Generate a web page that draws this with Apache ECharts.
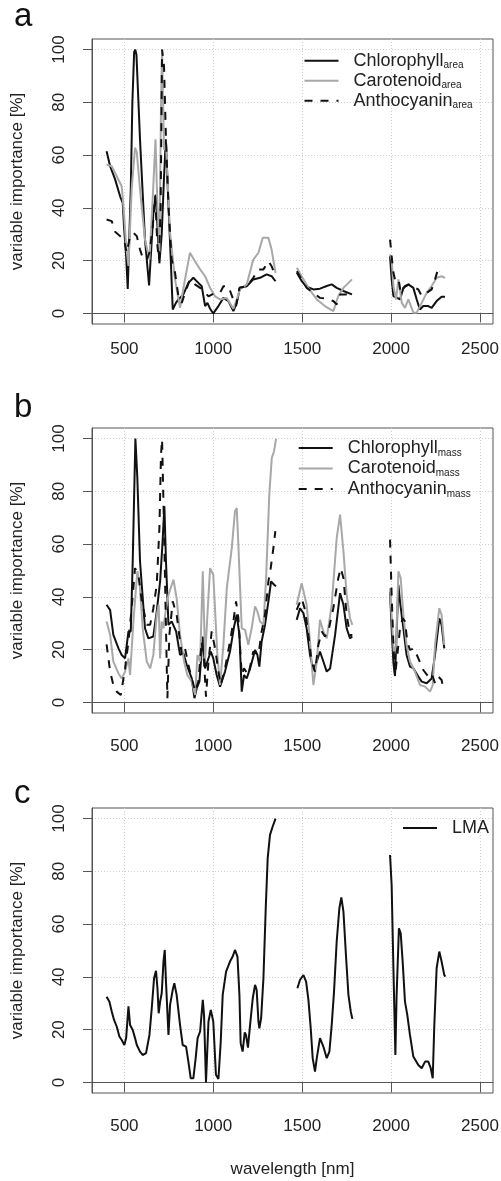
<!DOCTYPE html>
<html><head><meta charset="utf-8">
<script src="https://cdn.jsdelivr.net/npm/echarts@6/dist/echarts.min.js"></script>
<style>html,body{margin:0;padding:0;background:#fff;}#c{width:501px;height:1181px;}</style>
</head><body><div id="c"></div>
<script>
const xTicks = [500, 1000, 1500, 2000, 2500];
const yTicks = [0, 20, 40, 60, 80, 100];
const panelLabels = ['a', 'b', 'c'];
const pigments = ['Chlorophyll', 'Carotenoid', 'Anthocyanin'];
const subA = 'area', subB = 'mass';
const xTitle = 'wavelength [nm]';
const yTitle = 'variable importance [%]';

// panel a
const chlArea = [[400,61.5],[420,55.8],[448,50.8],[476,44.4],[491,41.9],[498,33],[510,21.7],[519,9.3],[536,47],[545,80],[555,99],[561,100],[568,98],[578,82],[588,65.9],[616,28],[639,10.6],[663,38],[676,45],[686,33],[697,19],[710,30],[722,50],[733,66],[745,46],[760,22],[772,1.5],[790,4],[804,5.3],[832,7.2],[860,11.6],[888,13.5],[916,11.6],[935,10.3],[954,2.8],[967,4],[982,1.8],[1000,0],[1029,2.8],[1057,5.9],[1085,4.7],[1113,0.9],[1132,4],[1150,9.7],[1188,10.3],[1225,12.9],[1263,13.5],[1300,14.8],[1328,14.1],[1350,12.2],
  null,[1470,15.4],[1497,12.3],[1525,10.1],[1563,9.1],[1600,9.4],[1638,10.4],[1666,11],[1694,9.7],[1732,8.5],[1780,7.2],
  null,[1994,21.7],[2003,13],[2013,6.6],[2031,6],[2050,5.3],[2069,9.7],[2097,11],[2125,9.7],[2144,5.3],[2162,1.5],[2181,2.8],[2209,2.8],[2228,2.1],[2256,4.7],[2284,6.3],[2303,6.3]];
const carArea = [[400,56.4],[429,55.8],[457,52],[485,48.2],[498,38],[510,25.5],[523,18],[541,47],[560,62.8],[570,61],[588,47],[616,28],[641,20.4],[660,44.4],[675,66],[686,40.6],[697,23],[706,78.5],[712,100],[723,62],[734,64],[757,30.5],[785,12.9],[813,2.1],[841,12.9],[869,23],[897,19.8],[926,16.7],[954,14.1],[982,9.7],[1010,6.5],[1038,5.3],[1075,5.9],[1113,1.8],[1132,5.3],[1150,9.1],[1188,11],[1225,20.4],[1254,23],[1278,28.7],[1310,28.7],[1328,24.2],[1350,15.4],
  null,[1470,17.3],[1497,14.1],[1535,9.7],[1582,5.3],[1628,2.8],[1675,0.9],[1703,6.6],[1732,9.7],[1780,12.9],
  null,[1994,22.4],[2003,20.5],[2013,10.4],[2028,5.3],[2041,12.9],[2060,4],[2078,2.1],[2097,5.3],[2125,0.3],[2144,0.3],[2172,4],[2200,7.8],[2228,10.4],[2256,13.5],[2284,14.1],[2303,13.5]];
const antArea = [[400,35.6],[429,35],[448,31],[476,29.3],[498,28],[513,23],[532,29.3],[551,30.5],[570,29.3],[588,24.2],[607,20.4],[626,20.4],[641,23],[660,33],[673,44.4],[686,25.5],[695,20.4],[704,40.6],[712,100],[723,93.7],[734,66],[748,40.6],[766,20.4],[785,15.4],[804,6.5],[823,4],[841,7.8],[869,12.9],[897,11],[926,9.7],[954,7.8],[973,6.5],[1010,7.8],[1038,7.8],[1057,10.3],[1085,10.3],[1109,5.9],[1128,2.8],[1147,9.7],[1188,10.3],[1225,13.5],[1254,16.7],[1282,16.7],[1310,19.8],[1328,17.9],[1350,14.1],
  null,[1470,16],[1497,12.9],[1525,9.7],[1563,7.8],[1600,5.9],[1638,5.6],[1675,4.7],[1694,3.4],[1713,7.2],[1741,7.2],[1780,7.5],
  null,[1994,28],[2003,21.7],[2013,15.4],[2022,12.9],[2041,13.5],[2054,7.8],[2078,10.4],[2106,11],[2134,9.7],[2153,9.1],[2172,6.6],[2200,7.8],[2228,9.1],[2247,12.9],[2266,17.3],[2275,16]];

// panel b
const chlMass = [[400,37],[420,35],[438,25.6],[467,20.5],[485,18],[504,16.7],[523,26.9],[536,26.9],[547,53.5],[562,100],[573,85],[588,53.5],[616,28.1],[635,24.3],[663,25],[682,34.5],[701,45.9],[714,59.8],[725,74.3],[734,53.5],[748,29.4],[766,30.7],[791,26.9],[813,18],[832,18.6],[851,14.2],[879,9.1],[894,1.6],[907,5.4],[922,7.9],[941,25],[954,12.9],[967,15.5],[986,19.3],[1000,16.7],[1019,10.4],[1038,6],[1066,11.7],[1094,19.3],[1117,28.8],[1132,33.2],[1147,25.6],[1160,4.1],[1173,10.4],[1188,9.1],[1207,12.9],[1235,19.9],[1248,18],[1259,13.6],[1272,23.1],[1291,29.4],[1310,38.3],[1325,45.9],[1342,44.6],[1353,44],
  null,[1469,31.3],[1488,35.7],[1507,33.8],[1525,28.1],[1544,18],[1563,12.3],[1582,15.5],[1600,19.3],[1619,15.5],[1638,11.7],[1657,12.9],[1685,25.6],[1713,41.4],[1732,37],[1750,28.1],[1769,24.3],[1782,25],
  null,[1994,42],[2003,28],[2013,15],[2022,10],[2041,44.6],[2050,38.3],[2069,28.1],[2087,18],[2106,13.6],[2125,13],[2153,9.8],[2172,7.9],[2200,7.3],[2228,9.1],[2247,18],[2271,31.9],[2284,29.4],[2299,20.5]];
const carMass = [[400,30.7],[420,25.6],[438,15.5],[467,11],[485,9.1],[504,11.7],[523,16.7],[532,10.4],[551,30.7],[573,49.7],[585,45.9],[603,28.1],[626,15.5],[645,12.9],[663,18],[682,33.2],[693,37],[701,16.7],[710,30.7],[720,28.1],[729,33.2],[748,40.8],[776,46.5],[794,39.5],[813,25.6],[836,15.5],[854,10.4],[879,7.9],[898,2.8],[911,18],[926,15.5],[941,49.7],[954,16.7],[967,33.2],[982,50.9],[1000,48.4],[1023,18],[1038,6.6],[1057,21.8],[1076,43.3],[1104,58.5],[1122,72.5],[1132,73.7],[1141,59.8],[1160,28.1],[1179,27.5],[1197,21.8],[1216,28.1],[1235,36.4],[1248,34.5],[1263,30.7],[1282,29.4],[1297,47.1],[1315,78.8],[1329,92.7],[1342,95.2],[1353,100],
  null,[1469,37],[1497,45.2],[1525,37],[1544,23.1],[1563,6.6],[1582,15.5],[1600,31.3],[1619,26.9],[1638,24.3],[1666,37],[1694,62.3],[1713,71.2],[1732,57.3],[1750,40.8],[1769,31.9],[1782,29.4],
  null,[1994,43.3],[2003,33.2],[2016,18],[2028,21.8],[2041,49.7],[2054,47.1],[2069,33.2],[2087,21.8],[2106,15.5],[2134,11.7],[2162,6.6],[2191,6],[2219,4.1],[2234,6.6],[2247,21.8],[2271,35.7],[2284,33.2],[2299,21.8]];
const antMass = [[400,22],[420,11.7],[438,6.6],[457,4.1],[480,2.8],[504,12.9],[523,23.1],[541,35.7],[560,50.9],[579,48.4],[598,38.3],[626,29.4],[645,29.4],[663,35.7],[682,44.6],[697,66.1],[706,94],[712,99.7],[723,66.1],[734,28.1],[742,1.6],[753,25.6],[772,38.3],[794,33.2],[823,18],[841,20.5],[860,14.2],[884,7.9],[898,4.1],[916,7.9],[935,23.1],[948,15.5],[959,2.2],[973,15.5],[991,26.9],[1010,20.5],[1029,11.7],[1042,6.6],[1066,12.9],[1094,23.1],[1113,30.7],[1128,38.3],[1141,32],[1160,10.4],[1173,12.9],[1197,10.4],[1225,19.3],[1254,18],[1272,26.9],[1291,33.2],[1310,45.9],[1323,50.9],[1338,58.5],[1349,64.9],
  null,[1469,35.1],[1497,39.5],[1516,35.1],[1535,25.6],[1553,15.5],[1572,11.7],[1591,21.8],[1610,26.9],[1628,25],[1647,26.9],[1675,35.7],[1703,47.1],[1717,50.9],[1732,47.1],[1750,33.2],[1769,25.6],[1782,25.6],
  null,[1994,61.7],[2003,40.8],[2013,21.8],[2022,9.8],[2035,18],[2050,28.1],[2065,31.9],[2078,30.7],[2091,23.1],[2106,19.9],[2129,20.5],[2153,16.7],[2181,12.3],[2209,9.8],[2228,11],[2247,7.3],[2266,9.8],[2284,8.5],[2297,4.1]];

// panel c
const lma = [[400,32.5],[416,30.6],[429,26.9],[442,23.7],[457,21.2],[472,17.4],[485,16.1],[500,14.2],[510,16.8],[523,28.8],[532,21.8],[547,19.9],[560,16.8],[570,14.2],[579,14.2],[588,11.7],[603,10.4],[622,11.1],[641,18],[654,28.1],[667,39.5],[678,42.3],[686,35.7],[693,26.2],[701,30.6],[710,33.8],[720,45.8],[727,50.2],[734,38.2],[748,18],[757,29.4],[772,35.1],[781,37.6],[794,33.2],[813,21.8],[828,14.2],[847,13.6],[860,7.9],[873,1.6],[888,1.6],[901,9.2],[912,16.8],[926,19.3],[941,31.3],[948,25.6],[959,0],[973,23.1],[986,27.5],[1000,23.1],[1015,2.9],[1029,1.3],[1042,15.5],[1053,33.2],[1072,42],[1094,45.8],[1109,47.7],[1122,50.2],[1136,47.7],[1147,33.2],[1154,14.9],[1165,11.7],[1177,19],[1184,18],[1195,13.2],[1207,21.8],[1222,31.9],[1235,37],[1244,35],[1254,23.1],[1259,20.5],[1269,24.3],[1282,39.5],[1295,66],[1306,85],[1319,93.8],[1334,97],[1350,100],
  null,[1473,35.7],[1488,38.9],[1507,40.7],[1522,38.2],[1535,31.3],[1548,20.5],[1559,9.2],[1572,4.1],[1582,9.2],[1600,16.8],[1619,13.6],[1638,9.2],[1653,11.7],[1666,21.8],[1679,34.4],[1694,53.4],[1709,66],[1720,70.1],[1732,64.7],[1746,48.3],[1760,33.2],[1773,26.9],[1782,24.1],
  null,[1994,86.2],[2003,74.8],[2013,43.3],[2024,10.4],[2031,33.2],[2044,58.4],[2054,56.5],[2065,45.8],[2078,30.6],[2091,25.6],[2106,18],[2125,9.8],[2153,6.6],[2172,5.4],[2191,7.9],[2209,7.9],[2223,5.4],[2234,1.6],[2243,21.8],[2256,43.3],[2271,49.6],[2284,45.8],[2299,40.7],[2305,40.1]];

const FONT = '"Liberation Sans", Arial, Helvetica, sans-serif';
const TXT = '#222';
const styles = {
  black: { color: '#111', width: 2, type: 'solid' },
  gray:  { color: '#a8a8a8', width: 2, type: 'solid' },
  dash:  { color: '#111', width: 2, type: [8, 8] }
};
const panels = [
  { top: 39,  labelMargin: 17, tick: 9,  legend: { left: 303.5, top: 51.7, gap: 1 },
    series: [[pigments[0] + ' ' + subA, chlArea, 'black'], [pigments[1] + ' ' + subA, carArea, 'gray'], [pigments[2] + ' ' + subA, antArea, 'dash']], labelY: 17.5 },
  { top: 428, labelMargin: 25, tick: 10, legend: { left: 297.7, top: 439, gap: 1.5 },
    series: [[pigments[0] + ' ' + subB, chlMass, 'black'], [pigments[1] + ' ' + subB, carMass, 'gray'], [pigments[2] + ' ' + subB, antMass, 'dash']], labelY: 408.5 },
  { top: 808, labelMargin: 25, tick: 10, legend: { left: 402, top: 819, gap: 1 },
    series: [['LMA', lma, 'black']], labelY: 794.5 }
];

function toData(arr) { return arr.map(p => p === null ? ['-', '-'] : p); }

const option = {
  animation: false,
  backgroundColor: '#fff',
  textStyle: { fontFamily: FONT },
  grid: [], xAxis: [], yAxis: [], series: [], legend: [], graphic: []
};

panels.forEach((p, i) => {
  option.grid.push({ left: 92, right: 8, top: p.top, height: 285, show: true, borderColor: '#555', borderWidth: 1, containLabel: false, outerBoundsMode: 'none' });
  option.xAxis.push({
    type: 'value', gridIndex: i, min: 318, max: 2573,
    name: i === 2 ? xTitle : '', nameLocation: 'middle', nameGap: 68,
    nameTextStyle: { fontSize: 17, color: TXT, fontFamily: FONT },
    axisLine: { show: true, lineStyle: { color: '#555', width: 1 } },
    axisTick: { show: true, customValues: xTicks, length: p.tick, lineStyle: { color: '#555', width: 1 } },
    axisLabel: { show: true, customValues: xTicks, formatter: v => String(v), fontSize: 17, color: TXT, margin: p.labelMargin, fontFamily: FONT },
    splitLine: { show: true, lineStyle: { color: '#cfcfcf', width: 1, type: [1, 2] } }
  });
  option.yAxis.push({
    type: 'value', gridIndex: i, min: -4, max: 104,
    name: yTitle, nameLocation: 'middle', nameGap: 66,
    nameTextStyle: { fontSize: 17, color: TXT, fontFamily: FONT },
    axisLine: { show: true, lineStyle: { color: '#555', width: 1 } },
    axisTick: { show: true, customValues: yTicks, length: 9, lineStyle: { color: '#555', width: 1 } },
    axisLabel: { show: true, customValues: yTicks, formatter: v => String(v), rotate: 90, fontSize: 17, color: TXT, margin: 24, fontFamily: FONT },
    splitLine: { show: true, lineStyle: { color: '#cfcfcf', width: 1, type: [1, 2] } }
  });
  p.series.forEach(s => {
    const st = styles[s[2]];
    option.series.push({
      type: 'line', name: s[0], xAxisIndex: i, yAxisIndex: i,
      data: toData(s[1]), showSymbol: false, symbol: 'none', connectNulls: false,
      lineStyle: { color: st.color, width: st.width, type: st.type },
      itemStyle: { color: st.color }, emphasis: { disabled: true }, silent: true
    });
  });
  option.legend.push({
    orient: 'vertical', left: p.legend.left, top: p.legend.top, padding: 0,
    itemWidth: 34, itemHeight: 14, itemGap: p.legend.gap, selectedMode: false,
    itemStyle: { opacity: 0 },
    data: p.series.map(s => s[0]),
    formatter: name => {
      const parts = name.split(' ');
      return parts.length > 1 ? '{m|' + parts[0] + '}{s|' + parts[1] + '}' : '{m|' + parts[0] + '}';
    },
    textStyle: {
      color: TXT, fontFamily: FONT,
      rich: {
        m: { fontSize: 18, lineHeight: 20, color: TXT, fontFamily: FONT, padding: [0, 0, 0, 10] },
        s: { fontSize: 10, color: TXT, fontFamily: FONT, verticalAlign: 'bottom' }
      }
    }
  });
  option.graphic.push({
    type: 'text', left: 14, top: p.labelY - 17, silent: true,
    style: { text: panelLabels[i], fontSize: 33, fill: '#111', fontFamily: FONT }
  });
});

const chart = echarts.init(document.getElementById('c'), null, { renderer: 'canvas' });
chart.setOption(option);
</script>
</body></html>
